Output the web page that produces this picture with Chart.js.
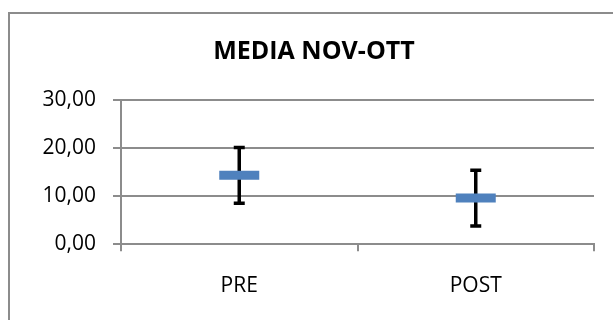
<!DOCTYPE html>
<html>
<head>
<meta charset="utf-8">
<script src="https://cdn.jsdelivr.net/npm/chart.js@4/dist/chart.umd.min.js"></script>
<style>
  html, body { margin: 0; padding: 0; background: #fff; overflow: hidden; }
  #wrap { position: relative; width: 613px; height: 320px; }
  #frame { position: absolute; left: 8px; top: 12px; width: 700px; height: 400px; border: 2px solid #8c8c8c; }
  canvas { position: absolute; left: 0; top: 0; }
</style>
</head>
<body>
<div id="wrap">
  <div id="frame"></div>
  <canvas id="c" width="613" height="320"></canvas>
</div>
<script>
const categories = ["PRE", "POST"];
const means = [14.35, 9.6];
const errors = [5.8, 5.8];
const yTickLabels = ["0,00", "10,00", "20,00", "30,00"];

// error bars drawn under the markers, positioned by the chart's own scales
const errorBars = {
  id: "errorBars",
  beforeDatasetsDraw(chart) {
    const ctx = chart.ctx;
    const x = chart.scales.x;
    const y = chart.scales.y;
    ctx.save();
    ctx.strokeStyle = "#000";
    ctx.lineWidth = 3.5;
    means.forEach((m, i) => {
      const px = x.getPixelForValue(i);
      const top = y.getPixelForValue(m + errors[i]);
      const bot = y.getPixelForValue(m - errors[i]);
      ctx.beginPath();
      ctx.moveTo(px, top);
      ctx.lineTo(px, bot);
      ctx.moveTo(px - 5.5, top);
      ctx.lineTo(px + 5.5, top);
      ctx.moveTo(px - 5.5, bot);
      ctx.lineTo(px + 5.5, bot);
      ctx.stroke();
    });
    ctx.restore();
  },
};

new Chart(document.getElementById("c"), {
  type: "line",
  data: {
    labels: categories,
    datasets: [
      {
        label: "MEDIA",
        data: means,
        showLine: false,
        pointStyle: "line",
        pointRadius: 20,
        pointHoverRadius: 20,
        pointBorderWidth: 9,
        pointHoverBorderWidth: 9,
        borderColor: "#4F81BD",
        backgroundColor: "#4F81BD",
      },
    ],
  },
  options: {
    responsive: false,
    animation: false,
    layout: { autoPadding: false, padding: { left: 34, right: 19, top: 0, bottom: 0 } },
    scales: {
      x: {
        offset: true,
        afterFit(scale) { scale.height = 75.7; },
        grid: { offset: true, drawOnChartArea: false, tickLength: 7, color: "#8c8c8c", lineWidth: 2 },
        border: { color: "#8c8c8c", width: 2 },
        ticks: { color: "#000", padding: 22, font: { family: "Open Sans", size: 21 } },
      },
      y: {
        min: 0,
        max: 30,
        afterFit(scale) { scale.width = 87; },
        grid: { tickLength: 8, color: "#8c8c8c", lineWidth: 2 },
        border: { color: "#8c8c8c", width: 2 },
        ticks: {
          stepSize: 10,
          padding: 17,
          color: "#000",
          font: { family: "Open Sans", size: 21 },
          callback: (v, i) => yTickLabels[i],
        },
      },
    },
    plugins: {
      legend: { display: false },
      tooltip: { enabled: false },
      title: {
        display: true,
        text: "MEDIA NOV-OTT",
        color: "#000",
        font: { family: "Open Sans", size: 25, weight: "bold" },
        padding: { top: 37, bottom: 33 },
      },
    },
  },
  plugins: [errorBars],
});
</script>
</body>
</html>
